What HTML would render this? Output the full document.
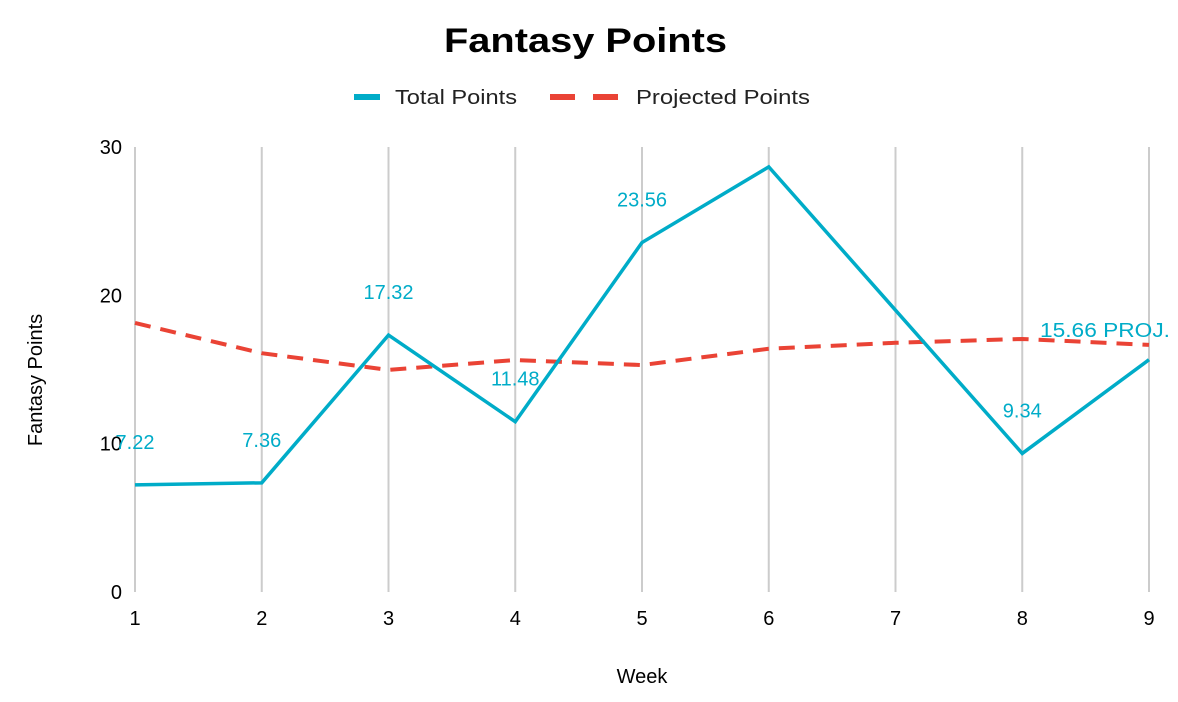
<!DOCTYPE html>
<html><head><meta charset="utf-8"><style>
body{margin:0;background:#fff;}
svg{display:block;font-family:"Liberation Sans",Arial,sans-serif;}
</style></head><body>
<svg id="chart" width="1178" height="702">
<text x="444" y="52" font-size="34" font-weight="bold" fill="#000" textLength="283" lengthAdjust="spacingAndGlyphs">Fantasy Points</text>
<g>
<g><line x1="354" y1="97" x2="380" y2="97" stroke="#00acc8" stroke-width="6"/><text x="395" y="104" font-size="20" fill="#222" textLength="122" lengthAdjust="spacingAndGlyphs">Total Points</text></g>
<g><line x1="550" y1="97" x2="575" y2="97" stroke="#ea4335" stroke-width="6"/><line x1="593" y1="97" x2="618" y2="97" stroke="#ea4335" stroke-width="6"/><text x="636" y="104" font-size="20" fill="#222" textLength="174" lengthAdjust="spacingAndGlyphs">Projected Points</text></g>
</g>
<g id="grid"></g>
<g id="yticks"></g>
<g id="xticks"></g>
<g id="series"></g>
<g id="labels"></g>
<text x="642" y="683" text-anchor="middle" font-size="20" fill="#000">Week</text>
<text transform="translate(42,380) rotate(-90)" text-anchor="middle" font-size="20" fill="#000">Fantasy Points</text>
</svg>
<script>
const weeks = [1,2,3,4,5,6,7,8,9];
const totalPoints = [7.22,7.36,17.32,11.48,23.56,28.66,19.0,9.34,15.66];
const projectedPoints = [18.14,16.1,14.97,15.64,15.3,16.4,16.8,17.06,16.66];
const yTicks = [0,10,20,30];
const totalLabels = ["7.22","7.36","17.32","11.48","23.56",null,null,"9.34","15.66 PROJ."];

const NS="http://www.w3.org/2000/svg";
const x0=135,x1=1149,yb=592,yt=147;
const xs=w=>x0+(w-weeks[0])/(weeks[weeks.length-1]-weeks[0])*(x1-x0);
const ys=v=>yb-(v-0)/(30-0)*(yb-yt);
function mk(tag,attrs,parent){const e=document.createElementNS(NS,tag);for(const k in attrs)e.setAttribute(k,attrs[k]);parent.appendChild(e);return e;}
const grid=document.getElementById('grid'),xt=document.getElementById('xticks'),yt_=document.getElementById('yticks'),ser=document.getElementById('series'),lab=document.getElementById('labels');
weeks.forEach(w=>{
  const l=mk('line',{x1:xs(w),x2:xs(w),y1:yt,y2:yb,stroke:'#cccccc','stroke-width':2},grid);
  
  
  const t=mk('text',{x:xs(w),y:yb+33,'text-anchor':'middle','font-size':20,fill:'#000'},xt);
  t.textContent=w;
  
  
});
yTicks.forEach(v=>{
  const t=mk('text',{x:122,y:ys(v)+7,'text-anchor':'end','font-size':20,fill:'#000'},yt_);
  t.textContent=v;
  
  
});
const pp=mk('polyline',{points:weeks.map((w,i)=>xs(w)+','+ys(projectedPoints[i])).join(' '),fill:'none',stroke:'#ea4335','stroke-width':4,'stroke-dasharray':'16,10'},ser);


const tp=mk('polyline',{points:weeks.map((w,i)=>xs(w)+','+ys(totalPoints[i])).join(' '),fill:'none',stroke:'#00acc8','stroke-width':3.5,'stroke-linejoin':'miter'},ser);


weeks.forEach((w,i)=>{
  if(!totalLabels[i])return;
  const last=i===weeks.length-1;
  const t=mk('text',{x:xs(w),y:ys(totalPoints[i])-36,'text-anchor':'middle','font-size':20,fill:'#00acc8'},lab);
  if(last){t.setAttribute('x',1040);t.setAttribute('y',337);t.setAttribute('text-anchor','start');t.setAttribute('textLength',130);t.setAttribute('lengthAdjust','spacingAndGlyphs');}
  t.textContent=totalLabels[i];
  
  
});
</script>
</body></html>
